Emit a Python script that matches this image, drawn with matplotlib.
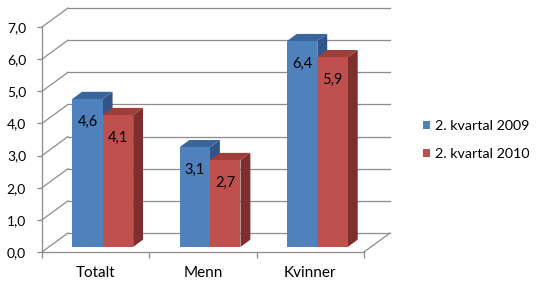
import matplotlib
matplotlib.use("Agg")
import matplotlib.pyplot as plt
from matplotlib.patches import Polygon, Patch
import numpy as np

categories = ["Totalt", "Menn", "Kvinner"]
series_names = ["2. kvartal 2009", "2. kvartal 2010"]
values_2009 = [4.6, 3.1, 6.4]
values_2010 = [4.1, 2.7, 5.9]
y_ticks = [0, 1, 2, 3, 4, 5, 6, 7]

front_cols = ["#4F81BD", "#C0504D"]
top_cols = ["#3A659A", "#9E3E3B"]
side_cols = ["#31558A", "#7E2E2C"]
grid_col = "#8C8C8C"

plt.rcParams['font.family'] = ['Lato', 'DejaVu Sans']

W, H = 536, 290
fig = plt.figure(figsize=(W / 100, H / 100), dpi=100)
ax = fig.add_axes([42 / W, 1 - 252 / H, 322 / W, 225 / H])
ax.set_xlim(-0.5, 2.5)
ax.set_ylim(0, 7)
ax.patch.set_alpha(0)

# oblique depth in data units
DX, DY = 0.242, 0.591       # full depth of the walls
S = 0.27                    # bar front depth fraction
BD = 0.38                   # bar depth fraction
bw = 0.284

# back wall gridlines + left wall diagonals
x0, x1 = ax.get_xlim()
for v in y_ticks:
    ax.plot([x0 + DX, x1 + DX], [v + DY, v + DY], color=grid_col, lw=0.9, clip_on=False, zorder=1)
    ax.plot([x0, x0 + DX], [v, v + DY], color=grid_col, lw=0.9, clip_on=False, zorder=1)
# floor right edge
ax.plot([x1, x1 + DX], [0, DY], color=grid_col, lw=0.9, clip_on=False, zorder=1)

z = 3
for i in range(len(categories)):
    for k, vals in enumerate([values_2009, values_2010]):
        v = vals[i]
        xl = i - bw + k * bw + S * DX
        base = S * DY
        top = v + S * DY
        bdx, bdy = BD * DX, BD * DY
        side = Polygon([(xl + bw, base), (xl + bw, top), (xl + bw + bdx, top + bdy), (xl + bw + bdx, base + bdy)],
                       closed=True, facecolor=side_cols[k], edgecolor='none', zorder=z, clip_on=False)
        ax.add_patch(side)
        tp = Polygon([(xl, top), (xl + bw, top), (xl + bw + bdx, top + bdy), (xl + bdx, top + bdy)],
                     closed=True, facecolor=top_cols[k], edgecolor='none', zorder=z + 0.1, clip_on=False)
        ax.add_patch(tp)
        ax.bar(xl, v, width=bw, bottom=base, align='edge', color=front_cols[k], zorder=z + 0.2, clip_on=False)
        ax.text(xl + bw / 2, top - 0.72, f"{v:.1f}".replace('.', ','), ha='center', va='center',
                fontsize=10.5, color='black', zorder=z + 0.5)
        z += 1

# axes styling
for sp in ['top', 'right']:
    ax.spines[sp].set_visible(False)
for sp in ['left', 'bottom']:
    ax.spines[sp].set_color(grid_col)
    ax.spines[sp].set_linewidth(0.9)
ax.set_yticks(y_ticks)
ax.set_yticklabels([f"{t:.1f}".replace('.', ',') for t in y_ticks])
ax.tick_params(axis='y', length=3.5, width=0.9, color=grid_col, pad=8, labelsize=10)
ax.set_xticks([-0.5, 0.5, 1.5, 2.5])
ax.set_xticklabels([])
ax.set_xticks(range(len(categories)), minor=True)
ax.set_xticklabels(categories, minor=True)
ax.tick_params(axis='x', which='major', length=4, width=0.9, color=grid_col)
ax.tick_params(axis='x', which='minor', length=0, pad=10, labelsize=11)

handles = [Patch(facecolor=front_cols[0]), Patch(facecolor=front_cols[1])]
fig.legend(handles, series_names, loc='center left', bbox_to_anchor=(423 / W, 1 - 140 / H),
           frameon=False, fontsize=10.3, handlelength=0.5, handleheight=0.5,
           handletextpad=0.35, labelspacing=1.1, borderpad=0, borderaxespad=0)

fig.savefig("out.png", dpi=100, facecolor='white')
